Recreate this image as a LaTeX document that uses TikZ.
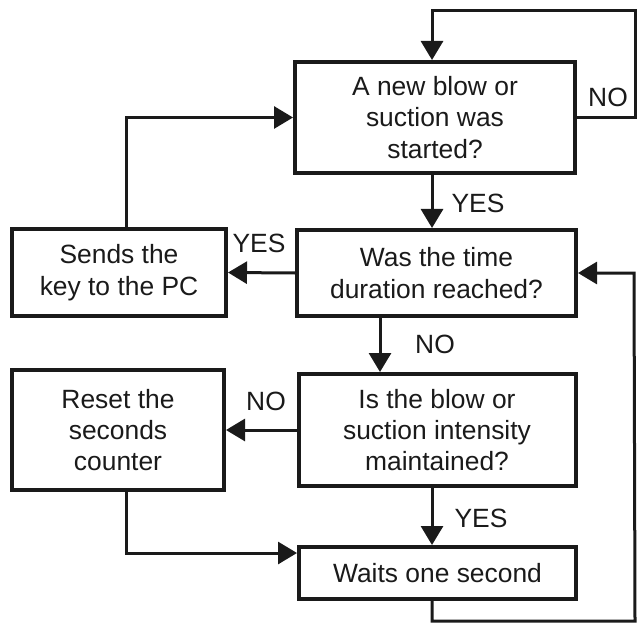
\documentclass[tikz,border=0pt]{standalone}
\usepackage{fontspec}
\setmainfont{Liberation Sans}
\usetikzlibrary{arrows.meta,calc}
\definecolor{ink}{HTML}{1A1A1A}
\begin{document}
\begin{tikzpicture}[x=1bp,y=-1bp,
  box/.style={draw=ink,line width=4bp,rectangle,align=center,inner sep=0pt,
    text=ink,font=\fontsize{26.5}{31.5}\selectfont},
  link/.style={draw=ink,line width=3bp,-{Triangle[length=19bp,width=22bp]}},
  tag/.style={text=ink,font=\fontsize{26.5}{31.5}\selectfont,inner sep=0pt}]
\useasboundingbox (0,0) rectangle (637,623);

% process and decision boxes
\node[box,minimum width=280bp,minimum height=111bp] (start) at (435,117.5)
  {A new blow or\\suction was\\started?};
\node[box,minimum width=279bp,minimum height=86bp] (time) at (436.5,273)
  {Was the time\\duration reached?};
\node[box,minimum width=214bp,minimum height=87bp] (send) at (119,272.5)
  {Sends the\\key to the PC};
\node[box,minimum width=277bp,minimum height=112bp] (hold) at (437,430)
  {Is the blow or\\suction intensity\\maintained?};
\node[box,minimum width=212bp,minimum height=120bp] (reset) at (118,430)
  {Reset the\\seconds\\counter};
\node[box,minimum width=277bp,minimum height=52bp] (wait) at (437.5,573)
  {Waits one second};

% helper points for the routed connectors
\coordinate (xa) at (432,0);
\coordinate (xb) at (380,0);
\coordinate (xc) at (126,0);
\coordinate (topy) at (0,11);
\coordinate (righte) at (635,0);
\coordinate (bottomy) at (0,621);
\coordinate (joiny) at (0,553);

% connectors
\draw[link] (start.east) -- (start.east -| righte) -- (righte |- topy)
  -- (xa |- topy) -- (xa |- start.north);
\draw[link] (xa |- start.south) -- (xa |- time.north);
\draw[link] (time.west) -- (send.east);
\draw[link] (xc |- send.north) |- (start.west);
\draw[link] (xb |- time.south) -- (xb |- hold.north);
\draw[link] (hold.west) -- (reset.east);
\draw[link] (xa |- hold.south) -- (xa |- wait.north);
\draw[link] (xc |- reset.south) -- (xc |- joiny) -- (joiny -| wait.west);
\draw[link] (xa |- wait.south) -- (xa |- bottomy) -- (righte |- bottomy)
  -- ($(righte |- time.east)+(-1,0)$) -- (time.east);

% branch labels
\node[tag] (l1) at (608,97) {NO};
\node[tag] (l2) at (478,203) {YES};
\node[tag] (l3) at (259,243) {YES};
\node[tag] (l4) at (435,344) {NO};
\node[tag] (l5) at (266,401) {NO};
\node[tag] (l6) at (481,518) {YES};
\end{tikzpicture}
\end{document}
